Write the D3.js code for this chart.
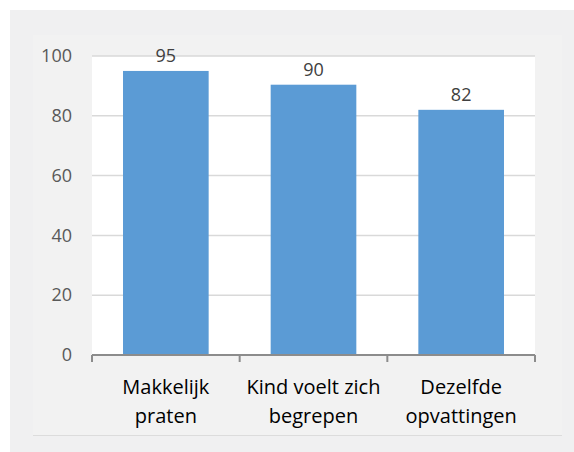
<!DOCTYPE html>
<html>
<head>
<meta charset="utf-8">
<script src="https://cdn.jsdelivr.net/npm/d3@7"></script>
<style>
  body { margin: 0; background: #ffffff; }
  svg { display: block; font-family: "Open Sans", sans-serif; }
</style>
</head>
<body>
<div id="chart"></div>
<script>
var categories = [["Makkelijk", "praten"], ["Kind voelt zich", "begrepen"], ["Dezelfde", "opvattingen"]];
var values = [95, 90.4, 82];
var yTicks = [0, 20, 40, 60, 80, 100];

var svg_Width = 574;
var svg_Height = 452;
var margin = { top: 56, right: 39, bottom: 97, left: 92 };
var chart_Width = svg_Width - margin.left - margin.right;
var chart_Height = svg_Height - margin.top - margin.bottom;

var svg = d3.select('#chart')
  .append('svg')
  .attr('width', svg_Width)
  .attr('height', svg_Height);

// background panels
svg.append('rect')
  .attr('x', 10).attr('y', 10)
  .attr('width', svg_Width - 10).attr('height', svg_Height - 10)
  .attr('fill', '#f0f0f1');
svg.append('rect')
  .attr('x', 33).attr('y', 35)
  .attr('width', 529).attr('height', 400)
  .attr('fill', '#f2f2f2');
svg.append('line')
  .attr('x1', 33).attr('x2', 562)
  .attr('y1', 435.5).attr('y2', 435.5)
  .attr('stroke', '#dcdcdc').attr('stroke-width', 1);

var chartGroup = svg.append('g')
  .attr('transform', 'translate(' + margin.left + ',' + margin.top + ')');

var xBandScale = d3.scaleBand()
  .domain(d3.range(categories.length))
  .range([0, chart_Width])
  .paddingInner(0.42)
  .paddingOuter(0.21);

var yLinearScale = d3.scaleLinear()
  .domain([0, 100])
  .range([chart_Height, 0]);

// white plot area
chartGroup.append('rect')
  .attr('width', chart_Width)
  .attr('height', chart_Height)
  .attr('fill', '#ffffff');

// gridlines
chartGroup.selectAll('.grid')
  .data(yTicks.filter(function(d) { return d > 0; }))
  .enter()
  .append('line')
  .attr('x1', 0).attr('x2', chart_Width)
  .attr('y1', function(d) { return yLinearScale(d); })
  .attr('y2', function(d) { return yLinearScale(d); })
  .attr('stroke', '#d9d9d9')
  .attr('stroke-width', 1.5);

// y labels
var leftAxis = d3.axisLeft(yLinearScale).tickValues(yTicks).tickSize(0).tickPadding(20);
var yAxisG = chartGroup.append('g').call(leftAxis);
yAxisG.select('.domain').remove();
yAxisG.selectAll('text')
  .attr('fill', '#595959')
  .style('font-size', '18px')
  .style('font-family', '"Open Sans", sans-serif');

// bars
chartGroup.selectAll('.bar')
  .data(values)
  .enter()
  .append('rect')
  .attr('x', function(d, i) { return xBandScale(i); })
  .attr('y', function(d) { return yLinearScale(d); })
  .attr('width', xBandScale.bandwidth())
  .attr('height', function(d) { return chart_Height - yLinearScale(d); })
  .attr('fill', '#5b9bd5');

// value labels
chartGroup.selectAll('.val')
  .data(values)
  .enter()
  .append('text')
  .attr('x', function(d, i) { return xBandScale(i) + xBandScale.bandwidth() / 2; })
  .attr('y', function(d) { return yLinearScale(d) - 9; })
  .attr('text-anchor', 'middle')
  .attr('fill', '#404040')
  .style('font-size', '18px')
  .text(function(d) { return d3.format('.0f')(d); });

// x axis line and boundary ticks
var step = xBandScale.step();
var edges = d3.range(categories.length + 1).map(function(i) {
  return i === 0 ? 0 : (i === categories.length ? chart_Width : xBandScale(i) - xBandScale.paddingInner() * step / 2);
});
chartGroup.append('line')
  .attr('x1', 0).attr('x2', chart_Width)
  .attr('y1', chart_Height).attr('y2', chart_Height)
  .attr('stroke', '#8c8c8c').attr('stroke-width', 2);
chartGroup.selectAll('.xtick')
  .data(edges)
  .enter()
  .append('line')
  .attr('x1', function(d) { return d; })
  .attr('x2', function(d) { return d; })
  .attr('y1', chart_Height)
  .attr('y2', chart_Height + 7)
  .attr('stroke', '#8c8c8c').attr('stroke-width', 2);

// category labels
var catText = chartGroup.selectAll('.cat')
  .data(categories)
  .enter()
  .append('text')
  .attr('text-anchor', 'middle')
  .attr('fill', '#000000')
  .style('font-size', '20px')
  .attr('transform', function(d, i) {
    return 'translate(' + (xBandScale(i) + xBandScale.bandwidth() / 2) + ',' + (chart_Height + 39) + ')';
  });
catText.selectAll('tspan')
  .data(function(d) { return d; })
  .enter()
  .append('tspan')
  .attr('x', 0)
  .attr('y', function(d, j) { return j * 29; })
  .text(function(d) { return d; });
</script>
</body>
</html>
